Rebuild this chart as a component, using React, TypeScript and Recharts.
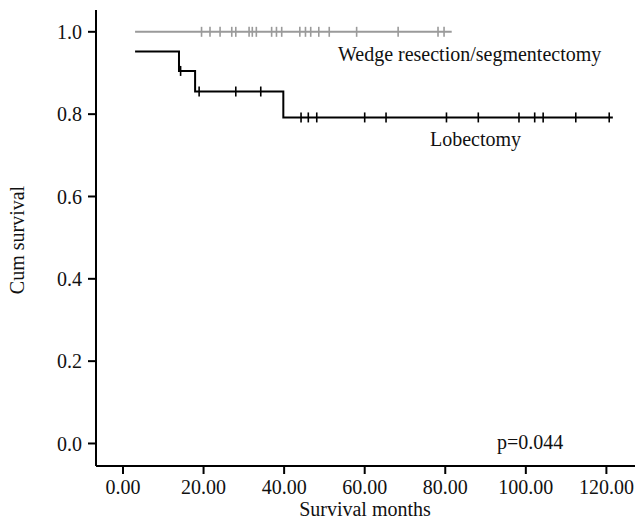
import { ComposedChart, Line, Scatter, XAxis, YAxis, Customized } from "recharts";

// Kaplan-Meier step points (months, cumulative survival)
const lobeTimes = [3, 13.9, 17.9, 39.8, 121.6];
const lobeSurv = [0.952, 0.905, 0.855, 0.792, 0.792];
const lobeCensored = [14.3, 18.9, 28.0, 34.2, 44.2, 46.0, 48.1, 60.0, 65.3, 80.3, 88.2, 98.3, 102.2, 104.3, 112.4, 120.7];

const wedgeTimes = [3, 81.6];
const wedgeSurv = [1.0, 1.0];
const wedgeCensored = [19.5, 21.6, 24.1, 27.0, 28.0, 31.3, 32.1, 33.1, 36.9, 38.1, 39.4, 43.9, 45.3, 46.6, 48.6, 51.2, 58.0, 68.3, 78.2, 79.7];

const xTicks = [0, 20, 40, 60, 80, 100, 120];
const yTicks = [0, 0.2, 0.4, 0.6, 0.8, 1.0];

const FONT = "'Liberation Serif', 'Times New Roman', serif";
const GREY = "#9a9a9a";

const toSeries = (times: number[], surv: number[]) => times.map((t, i) => ({ x: t, y: surv[i] }));

// survival value at time t from the step function
const survAt = (times: number[], surv: number[], t: number) => {
  let s = surv[0];
  times.forEach((tt, i) => {
    if (tt <= t) s = surv[i];
  });
  return s;
};

const lobeLine = toSeries(lobeTimes, lobeSurv);
const wedgeLine = toSeries(wedgeTimes, wedgeSurv);
const lobeMarks = lobeCensored.map(t => ({ x: t, y: survAt(lobeTimes, lobeSurv, t) }));
const wedgeMarks = wedgeCensored.map(t => ({ x: t, y: survAt(wedgeTimes, wedgeSurv, t) }));

const censorShape = (color: string) => (props: any) => {
  const { cx, cy } = props;
  return <line x1={cx} x2={cx} y1={cy - 5} y2={cy + 5} stroke={color} strokeWidth={1.6} />;
};

const XTick = ({ x, y, payload }: any) => (
  <text x={x} y={y} dy="0.71em" textAnchor="middle" fontFamily={FONT} fontSize={20} fill="#111">
    {payload.value.toFixed(2)}
  </text>
);

const YTick = ({ x, y, payload }: any) => (
  <text x={x} y={y} dy="0.355em" textAnchor="end" fontFamily={FONT} fontSize={20} fill="#111">
    {payload.value.toFixed(1)}
  </text>
);

const Texts = () => (
  <g fontFamily={FONT} fontSize={20} fill="#111">
    <text x={338} y={61}>Wedge resection/segmentectomy</text>
    <text x={430} y={146}>Lobectomy</text>
    <text x={497} y={449}>p=0.044</text>
    <text x={365} y={516} textAnchor="middle">Survival months</text>
    <text x={24} y={240} textAnchor="middle" transform="rotate(-90 24 240)">Cum survival</text>
  </g>
);

export default function App() {
  return (
    <div style={{ position: "absolute", left: 0, top: 0, background: "#fff" }}>
      <ComposedChart width={635} height={528} margin={{ top: 10, right: 0, bottom: 0, left: 0 }}>
        <XAxis
          xAxisId="top"
          orientation="top"
          type="number"
          dataKey="x"
          domain={[-6.7, 127.1]}
          allowDataOverflow
          height={0}
          tick={false}
          tickLine={false}
          axisLine={{ stroke: "#000", strokeWidth: 2 }}
        />
        <XAxis
          type="number"
          dataKey="x"
          domain={[-6.7, 127.1]}
          allowDataOverflow
          ticks={xTicks}
          height={62}
          tickSize={8}
          tickMargin={6}
          axisLine={{ stroke: "#000", strokeWidth: 2 }}
          tickLine={{ stroke: "#000", strokeWidth: 2 }}
          tick={<XTick />}
        />
        <YAxis
          type="number"
          dataKey="y"
          domain={[-0.0547, 1.053]}
          allowDataOverflow
          ticks={yTicks}
          width={96}
          tickSize={8}
          tickMargin={6}
          axisLine={{ stroke: "#000", strokeWidth: 2 }}
          tickLine={{ stroke: "#000", strokeWidth: 2 }}
          tick={<YTick />}
        />
        <Line data={wedgeLine} dataKey="y" type="stepAfter" stroke={GREY} strokeWidth={2} dot={false} activeDot={false} isAnimationActive={false} />
        <Line data={lobeLine} dataKey="y" type="stepAfter" stroke="#000" strokeWidth={2} dot={false} activeDot={false} isAnimationActive={false} />
        <Scatter data={wedgeMarks} dataKey="y" shape={censorShape(GREY)} isAnimationActive={false} />
        <Scatter data={lobeMarks} dataKey="y" shape={censorShape("#000")} isAnimationActive={false} />
        <Customized component={Texts} />
      </ComposedChart>
    </div>
  );
}
